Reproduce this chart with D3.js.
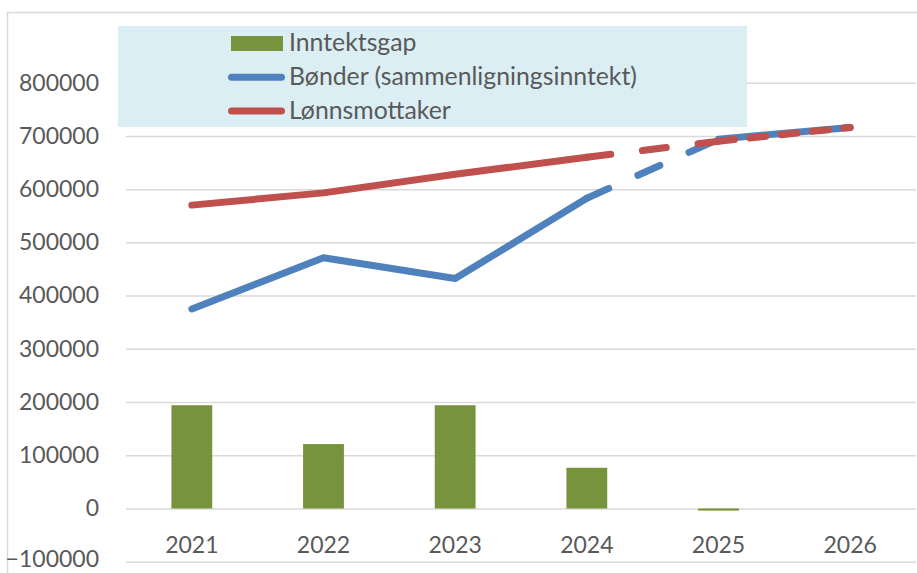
<!DOCTYPE html>
<html>
<head>
<meta charset="utf-8">
<script src="https://cdn.jsdelivr.net/npm/d3@7"></script>
<style>
  html, body { margin: 0; padding: 0; background: #fff; }
  svg { display: block; }
  text { font-family: Lato, "Open Sans", "Liberation Sans", sans-serif; fill: #595959; }
</style>
</head>
<body>
<svg id="chart" width="917" height="573"></svg>
<script>
// ---- data ----
const years = ["2021", "2022", "2023", "2024", "2025", "2026"];
const inntektsgap = [194000, 121000, 194000, 76500, -4000, 0];
const bonder = [375000, 471000, 432000, 583000, 694000, 716000];
const lonnsmottaker = [570000, 593000, 628000, 660000, 690000, 716000];
const yTicks = [-100000, 0, 100000, 200000, 300000, 400000, 500000, 600000, 700000, 800000];
const legendLabels = ["Inntektsgap", "Bønder (sammenligningsinntekt)", "Lønnsmottaker"];

// ---- layout ----
const svg = d3.select("#chart");
const plot = { left: 126, right: 916, top: 82.7, bottom: 561.7 };
const colors = { bar: "#77933C", blue: "#4F81BD", red: "#C0504D", grid: "#D9D9D9" };
const axisFont = 23;
const legendFont = 24.8;

const x = d3.scaleBand().domain(years).range([plot.left, plot.right]).padding(0);
const y = d3.scaleLinear().domain([-100000, 800000]).range([plot.bottom, plot.top]);
const cx = d => x(d) + x.bandwidth() / 2;

// outer chart frame
svg.append("path")
  .attr("d", "M7.5,580 L7.5,12.5 L925,12.5")
  .attr("fill", "none").attr("stroke", colors.grid).attr("stroke-width", 1.5);

// gridlines + y labels
const yAxis = svg.append("g")
  .attr("transform", `translate(${plot.left},0)`)
  .call(d3.axisLeft(y).tickValues(yTicks).tickFormat(d3.format("d"))
        .tickSize(-(plot.right - plot.left)).tickPadding(27));
yAxis.select(".domain").remove();
yAxis.selectAll(".tick line").attr("stroke", colors.grid).attr("stroke-width", 1.5);
yAxis.selectAll(".tick text").attr("font-size", axisFont).attr("fill", "#595959")
  .attr("dy", d => d === yTicks[0] ? "0.22em" : "0.32em");
yAxis.attr("font-family", null).attr("font-size", null);

// x labels
const xAxis = svg.append("g")
  .attr("transform", `translate(0,${y(0)})`)
  .call(d3.axisBottom(x).tickSize(0).tickPadding(28.5));
xAxis.select(".domain").remove();
xAxis.selectAll(".tick text").attr("font-size", axisFont).attr("fill", "#595959");
xAxis.attr("font-family", null).attr("font-size", null);

// bars
const barW = x.bandwidth() * 0.31;
svg.append("g").selectAll("rect")
  .data(years.map((yr, i) => ({ yr, v: inntektsgap[i] })).filter(d => d.v !== 0))
  .join("rect")
  .attr("x", d => cx(d.yr) - barW / 2)
  .attr("width", barW)
  .attr("y", d => y(Math.max(0, d.v)))
  .attr("height", d => Math.abs(y(d.v) - y(0)))
  .attr("fill", colors.bar);

// lines: actual (solid) until 2024, projected (dashed) after
const projectedFrom = 3;
const line = d3.line().x(d => cx(d.yr)).y(d => y(d.v));
function drawSeries(values, color, lastDash) {
  const pts = years.map((yr, i) => ({ yr, v: values[i] }));
  const g = svg.append("g").attr("fill", "none").attr("stroke", color)
    .attr("stroke-width", 7).attr("stroke-linecap", "round").attr("stroke-linejoin", "round");
  g.append("path").attr("d", line(pts.slice(0, projectedFrom + 1)));
  g.append("path").attr("d", line(pts.slice(projectedFrom, projectedFrom + 2)))
    .attr("stroke-dasharray", "24,32");
  g.append("path").attr("d", line(pts.slice(projectedFrom + 1)))
    .attr("stroke-dasharray", lastDash);
}
drawSeries(bonder, colors.blue, null);
drawSeries(lonnsmottaker, colors.red, "16,15.5");

// legend
const lg = svg.append("g");
lg.append("rect").attr("x", 118).attr("y", 26).attr("width", 629).attr("height", 101).attr("fill", "#DAEEF3");
const legendRows = [
  { label: legendLabels[0], type: "bar", color: colors.bar },
  { label: legendLabels[1], type: "line", color: colors.blue },
  { label: legendLabels[2], type: "line", color: colors.red }
];
legendRows.forEach((r, i) => {
  const base = 51 + i * 34;
  const mid = 43.5 + i * 33.8;
  if (r.type === "bar") {
    lg.append("rect").attr("x", 231).attr("y", 36).attr("width", 52).attr("height", 15).attr("fill", r.color);
  } else {
    lg.append("line").attr("x1", 231.5).attr("x2", 281.5).attr("y1", mid).attr("y2", mid)
      .attr("stroke", r.color).attr("stroke-width", 7).attr("stroke-linecap", "round");
  }
  lg.append("text").attr("x", 289).attr("y", base).attr("font-size", legendFont).text(r.label);
});
</script>
</body>
</html>
